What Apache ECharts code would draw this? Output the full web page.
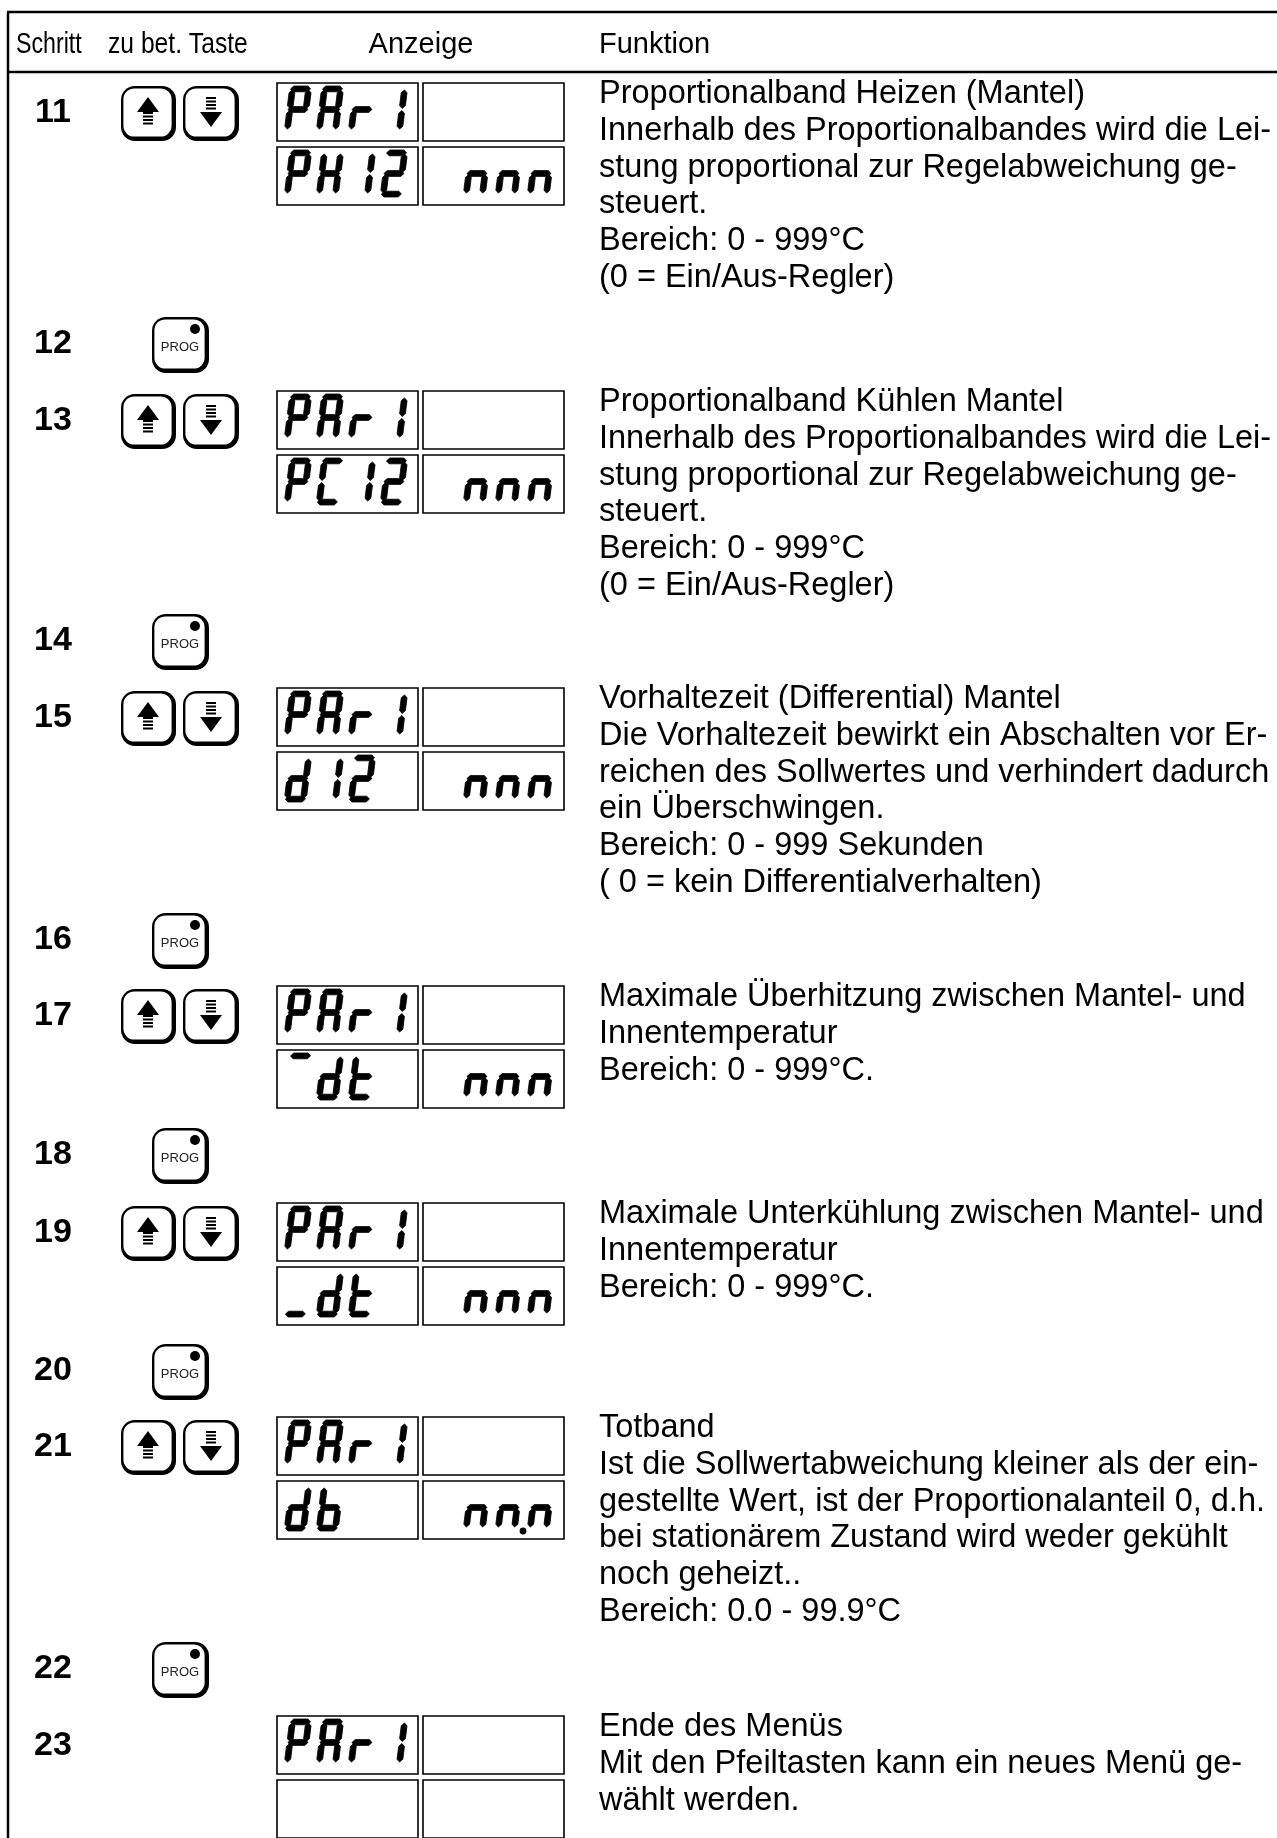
<!DOCTYPE html>
<html><head><meta charset="utf-8">
<style>html,body{margin:0;padding:0;background:#fff}#c{width:1277px;height:1838px}</style>
<script src="https://cdn.jsdelivr.net/npm/echarts@6/dist/echarts.min.js"></script>
</head><body><div id="c"></div>
<script>
const headers = ['Schritt','zu bet. Taste','Anzeige','Funktion'];
const steps = ['11','12','13','14','15','16','17','18','19','20','21','22','23'];
const keys = ['arrows','prog','arrows','prog','arrows','prog','arrows','prog','arrows','prog','arrows','prog',''];
const displayTop = ['PAr1','','PAr1','','PAr1','','PAr1','','PAr1','','PAr1','','PAr1'];
const displayBottom = ['PH12','','PC12','','d12','','^dt','','_dt','','db','',''];
const displayValue = [' nnn','',' nnn','',' nnn','',' nnn','',' nnn','',' nn.n','',''];
const functions = [
 ['Proportionalband Heizen (Mantel)','Innerhalb des Proportionalbandes wird die Lei-','stung proportional zur Regelabweichung ge-','steuert.','Bereich: 0 - 999°C','(0 = Ein/Aus-Regler)'],
 [],
 ['Proportionalband Kühlen Mantel','Innerhalb des Proportionalbandes wird die Lei-','stung proportional zur Regelabweichung ge-','steuert.','Bereich: 0 - 999°C','(0 = Ein/Aus-Regler)'],
 [],
 ['Vorhaltezeit (Differential) Mantel','Die Vorhaltezeit bewirkt ein Abschalten vor Er-','reichen des Sollwertes und verhindert dadurch','ein Überschwingen.','Bereich: 0 - 999 Sekunden','( 0 = kein Differentialverhalten)'],
 [],
 ['Maximale Überhitzung zwischen Mantel- und','Innentemperatur','Bereich: 0 - 999°C.'],
 [],
 ['Maximale Unterkühlung zwischen Mantel- und','Innentemperatur','Bereich: 0 - 999°C.'],
 [],
 ['Totband','Ist die Sollwertabweichung kleiner als der ein-','gestellte Wert, ist der Proportionalanteil 0, d.h.','bei stationärem Zustand wird weder gekühlt','noch geheizt..','Bereich: 0.0 - 99.9°C'],
 [],
 ['Ende des Menüs','Mit den Pfeiltasten kann ein neues Menü ge-','wählt werden.']
];

/* layout (page pixels on the hidden axes) */
const W = 1277, H = 1838;
const rowTop = [83,317,391,614,688,913,986,1128,1203,1344,1417,1642,1716];
const SEG = {P:'abefg',A:'abcefg',r:'eg','1':'bc',H:'bcefg','2':'abdeg',C:'adef',d:'bcdeg',t:'defg',b:'cdefg',n:'ceg','^':'a','_':'d',' ':''};
const digitW = 22, digitH = 47, slant = 0.125, pitch = 32, t = 5.8;

function segPolys(s){
  const w=digitW,h=digitH,m=h/2,g=1,ht=t/2;
  const hz=(x1,x2,y)=>[[x1+g,y],[x1+g+ht,y-ht],[x2-g-ht,y-ht],[x2-g,y],[x2-g-ht,y+ht],[x1+g+ht,y+ht]];
  const vt=(x,y1,y2)=>[[x,y1+g],[x+ht,y1+g+ht],[x+ht,y2-g-ht],[x,y2-g],[x-ht,y2-g-ht],[x-ht,y1+g+ht]];
  return ({a:hz(0,w,ht),g:hz(0,w,m),d:hz(0,w,h-ht),f:vt(ht,ht,m),b:vt(w-ht,ht,m),e:vt(ht,m,h-ht),c:vt(w-ht,m,h-ht)})[s];
}
function digitChildren(api,text,x0,y0){
  const out=[];let i=0;
  for(const ch of text){
    if(ch==='.'){
      const c=api.coord([x0+(i-1)*pitch+digitW+6,y0+47]);
      out.push({type:'circle',shape:{cx:c[0],cy:c[1],r:3.4},style:{fill:'#000'}});continue;
    }
    for(const s of (SEG[ch]||'')){
      const pts=segPolys(s).map(p=>api.coord([x0+i*pitch+p[0]+(digitH-p[1])*slant,y0+p[1]]));
      out.push({type:'polygon',shape:{points:pts},style:{fill:'#000',stroke:'#000',lineWidth:0.8,lineJoin:'round'}});
    }
    i++;
  }
  return out;
}
function rect(api,x,y,w,h,style,r){
  const a=api.coord([x,y]),b=api.coord([x+w,y+h]);
  return {type:'rect',shape:{x:a[0],y:a[1],width:b[0]-a[0],height:b[1]-a[1],r:r||0},style};
}
function line(api,x1,y1,x2,y2,w){
  const a=api.coord([x1,y1]),b=api.coord([x2,y2]);
  return {type:'line',shape:{x1:a[0],y1:a[1],x2:b[0],y2:b[1]},style:{stroke:'#000',lineWidth:w}};
}
function poly(api,pts){return {type:'polygon',shape:{points:pts.map(p=>api.coord(p))},style:{fill:'#000'}};}
function txt(api,s,x,y,size,opt){
  const c=api.coord([x,y]);
  return {type:'text',x:c[0],y:c[1],scaleX:(opt&&opt.sx)||1,style:Object.assign({text:s,fill:'#000',font:((opt&&opt.bold)?'bold ':'')+size+'px "Liberation Sans"',textAlign:(opt&&opt.align)||'left',textVerticalAlign:'middle'},opt&&opt.style)};
}
function keyBody(api,x,y,w,h){
  return [rect(api,x,y,w,h,{fill:'#000'},14),rect(api,x+2.4,y+2.4,w-6.8,h-6.8,{fill:'#fff'},11)];
}
function arrowsKey(api,y){
  const o=[...keyBody(api,121,y,55,55),...keyBody(api,183,y,56,55)];
  o.push(poly(api,[[148,y+11],[159,y+26],[137,y+26]]));
  o.push(rect(api,143,y+26,10,2,{fill:'#000'}),rect(api,143,y+29.5,10,2,{fill:'#000'}),rect(api,143,y+33,10,2,{fill:'#000'}),rect(api,143,y+36.5,10,2,{fill:'#000'}));
  o.push(poly(api,[[200,y+26],[222,y+26],[211,y+41]]));
  o.push(rect(api,206,y+11,10,2,{fill:'#000'}),rect(api,206,y+14.5,10,2,{fill:'#000'}),rect(api,206,y+18,10,2,{fill:'#000'}),rect(api,206,y+21.5,10,2,{fill:'#000'}));
  return o;
}
function progKey(api,y){
  const o=keyBody(api,152,y,57,56);
  const c=api.coord([195,y+12]);
  o.push({type:'circle',shape:{cx:c[0],cy:c[1],r:5},style:{fill:'#000'}});
  o.push(txt(api,'PROG',180,y+30,13,{align:'center',style:{fill:'#222'}}));
  return o;
}
function box(api,x,y,w,h){return rect(api,x,y,w,h,{fill:'none',stroke:'#000',lineWidth:1.6});}

function renderRow(params,api){
  const i=api.value(0);
  const kids=[];
  const top=rowTop[i];
  const isDisplay=displayTop[i]!=='';
  const numY=isDisplay?top+30:top+27;
  kids.push(txt(api,steps[i],53,numY,34,{bold:true,align:'center'}));
  if(keys[i]==='arrows')kids.push(...arrowsKey(api,top+3));
  if(keys[i]==='prog')kids.push(...progKey(api,top));
  if(isDisplay){
    [[277,top],[423,top],[277,top+64],[423,top+64]].forEach(b=>kids.push(box(api,b[0],b[1],141,58)));
    kids.push(...digitChildren(api,displayTop[i],284,top+3));
    kids.push(...digitChildren(api,displayBottom[i],284,top+67));
    kids.push(...digitChildren(api,displayValue[i],431,top+67));
    functions[i].forEach((s,k)=>kids.push(txt(api,s,599,top+11+k*36.8,32.5)));
  }
  return {type:'group',children:kids};
}
function renderFrame(params,api){
  const kids=[line(api,7,12,W,12,2.5),line(api,8,12,8,H,2.5),line(api,8,72,W,72,2.5)];
  kids.push(txt(api,headers[0],16,45,29,{sx:.8}));
  kids.push(txt(api,headers[1],108,45,29,{sx:.85}));
  kids.push(txt(api,headers[2],421,45,29,{align:'center'}));
  kids.push(txt(api,headers[3],599,45,29));
  return {type:'group',children:kids};
}
const chart=echarts.init(document.getElementById('c'),null,{renderer:'canvas'});
chart.setOption({
  animation:false,
  backgroundColor:'#fff',
  grid:{left:0,right:0,top:0,bottom:0},
  xAxis:{type:'value',min:0,max:W,show:false},
  yAxis:{type:'value',min:0,max:H,inverse:true,show:false},
  series:[
    {type:'custom',coordinateSystem:'cartesian2d',clip:false,silent:true,renderItem:renderFrame,data:[[0]]},
    {type:'custom',coordinateSystem:'cartesian2d',clip:false,silent:true,renderItem:renderRow,data:steps.map((s,i)=>[i])}
  ]
});
</script></body></html>
